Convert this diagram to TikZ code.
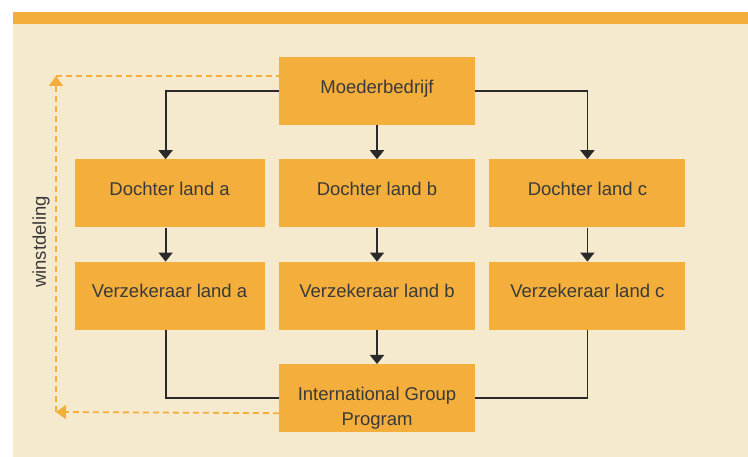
\documentclass[tikz,border=0pt]{standalone}
\usepackage{fontspec}
\setmainfont{Liberation Sans}
\usepackage{tikz}
\usetikzlibrary{positioning}
\usetikzlibrary{arrows.meta}
\usetikzlibrary{calc}

\definecolor{boxorange}{HTML}{F3AE3C}
\definecolor{cream}{HTML}{F6EACE}
\definecolor{textgray}{HTML}{3A3A3A}
\definecolor{linegray}{HTML}{2A2A2A}

\begin{document}
\begin{tikzpicture}[x=1pt,y=-1pt,
% Box style
    unit/.style={rectangle,fill=boxorange,minimum width=196pt,minimum height=68pt,
		text=textgray,align=center,inner sep=0pt,text height=13pt,text depth=8.6pt,
		font={\fontsize{18.5pt}{25pt}\selectfont}},
    unitsmall/.style={unit,minimum width=190pt},
% Connector style
    link/.style={draw=linegray,line width=1.8pt,
		-{Triangle[width=14pt,length=9pt]}},
    linkplain/.style={draw=linegray,line width=1.8pt},
    share/.style={draw=boxorange,line width=1.8pt,dash pattern=on 6pt off 4pt},
    sharetip/.style={share,-{Triangle[width=14pt,length=10pt]}}
    ]
  % background and top bar
  \useasboundingbox (0,0) rectangle (748,457);
  \fill[cream] (13,24) rectangle (748,457);
  \fill[boxorange] (13,12) rectangle (748,24);

  \node (moeder) [unit] at (377,91) {Moederbedrijf};

  \node (dochterB) [unit,below=34pt of moeder] {Dochter land b};
  \node (dochterA) [unitsmall,left=14pt of dochterB] {Dochter land a};
  \node (dochterC) [unit,right=14pt of dochterB] {Dochter land c};

  \node (verzB) [unit,below=34pt of dochterB] {Verzekeraar land b};
  \node (verzA) [unitsmall,below=34pt of dochterA] {Verzekeraar land a};
  \node (verzC) [unit,below=34pt of dochterC] {Verzekeraar land c};

  \node (igp) [unit,below=34pt of verzB,text height=54pt,text depth=0pt]
    {International Group\\Program};

  \node (winlabel) [rotate=90,text=textgray,font={\fontsize{18.5pt}{21pt}\selectfont}]
    at (41,242) {winstdeling};

  % ownership
  \draw[link] (moeder.west) -| ([xshift=-4pt]dochterA.north);
  \draw[link] (moeder) -- (dochterB);
  \draw[link] (moeder.east) -| (dochterC.north);

  \draw[link] ([xshift=-4pt]dochterA.south) -- ([xshift=-4pt]verzA.north);
  \draw[link] (dochterB) -- (verzB);
  \draw[link] (dochterC) -- (verzC);

  % pooling
  \draw[linkplain] ([xshift=-4pt]verzA.south) |- (igp.west);
  \draw[link] (verzB) -- (igp);
  \draw[linkplain] (verzC.south) |- (igp.east);

  % winstdeling
  \coordinate (winB) at (56,412);
  \coordinate (winT) at (56,76);
  \draw[sharetip] ([yshift=-15pt]igp.west) -- (winB);
  \draw[sharetip] (winB) -- (winT);
  \draw[share] (winT) -- ([yshift=15pt]moeder.west);

\end{tikzpicture}
\end{document}
